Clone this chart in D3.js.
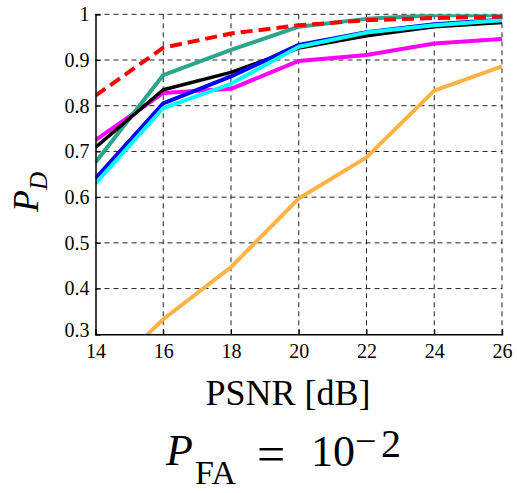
<!DOCTYPE html>
<html>
<head>
    <meta charset="utf-8">
    <style>
        body { margin: 0; background: #fff; }
        text { font-family: "Liberation Serif", "Times New Roman", serif; }
    </style>
</head>
<body>
    <script src="https://cdn.jsdelivr.net/npm/d3@7"></script>
    <script>
        // PSNR values on the x axis
        var psnr = [14, 16, 18, 20, 22, 24, 26];
        var xTicks = [14, 16, 18, 20, 22, 24, 26];
        var yTicks = [0.3, 0.4, 0.5, 0.6, 0.7, 0.8, 0.9, 1];

        // detection probability per method
        var orangePd  = [0.19, 0.333, 0.447, 0.597, 0.687, 0.833, 0.886];
        var magentaPd = [0.725, 0.828, 0.837, 0.898, 0.911, 0.936, 0.946];
        var tealPd    = [0.676, 0.867, 0.922, 0.973, 0.99, 0.998, 0.998];
        var blackPd   = [0.709, 0.835, 0.873, 0.926, 0.953, 0.973, 0.982];
        var bluePd    = [0.641, 0.805, 0.864, 0.933, 0.961, 0.978, 0.988];
        var cyanPd    = [0.63, 0.795, 0.848, 0.929, 0.960, 0.976, 0.987];
        var redPd     = [0.822, 0.927, 0.958, 0.976, 0.987, 0.992, 0.995];

        var series = [
            { values: orangePd, color: '#ffb347', width: 4, dash: null },
            { values: magentaPd, color: '#ff00ff', width: 4, dash: null },
            { values: tealPd, color: '#2ca58d', width: 4, dash: null },
            { values: blackPd, color: '#000000', width: 3.5, dash: null },
            { values: bluePd, color: '#0000ff', width: 4, dash: null },
            { values: cyanPd, color: '#00ffff', width: 4, dash: null },
            { values: redPd, color: '#ff0000', width: 4, dash: '12,6' }
        ];

        var width = 517, height = 493;
        var plotLeft = 95.5, plotRight = 502, plotTop = 14.3, plotBottom = 334.3;
        var serif = '"Liberation Serif", "Times New Roman", serif';

        var xScale = d3.scaleLinear().domain([14, 26]).range([plotLeft, plotRight]);
        var yScale = d3.scaleLinear().domain([0.3, 1]).range([plotBottom, plotTop]);

        var svg = d3.select('body').append('svg')
            .attr('width', width)
            .attr('height', height);

        svg.append('defs').append('clipPath').attr('id', 'plotClip')
            .append('rect')
            .attr('x', plotLeft).attr('y', plotTop)
            .attr('width', plotRight - plotLeft).attr('height', plotBottom - plotTop);

        // dashed grid
        var grid = svg.append('g');
        grid.selectAll('.vgrid')
            .data(xTicks.slice(1))
            .enter().append('line')
            .attr('x1', function (d) { return xScale(d); })
            .attr('x2', function (d) { return xScale(d); })
            .attr('y1', plotTop).attr('y2', plotBottom)
            .attr('stroke', '#222').attr('stroke-width', 1)
            .attr('stroke-dasharray', '5,4');
        grid.selectAll('.hgrid')
            .data(yTicks.slice(1))
            .enter().append('line')
            .attr('x1', plotLeft).attr('x2', plotRight)
            .attr('y1', function (d) { return yScale(d); })
            .attr('y2', function (d) { return yScale(d); })
            .attr('stroke', '#222').attr('stroke-width', 1)
            .attr('stroke-dasharray', '5,4');

        // lines
        var line = d3.line()
            .x(function (d, i) { return xScale(psnr[i]); })
            .y(function (d) { return yScale(d); });

        svg.append('g')
            .attr('clip-path', 'url(#plotClip)')
            .selectAll('path')
            .data(series)
            .enter().append('path')
            .attr('d', function (d) { return line(d.values); })
            .attr('fill', 'none')
            .attr('stroke', function (d) { return d.color; })
            .attr('stroke-width', function (d) { return d.width; })
            .attr('stroke-dasharray', function (d) { return d.dash; })
            .attr('stroke-linejoin', 'round');

        // axes with inward ticks
        var xAxis = d3.axisBottom(xScale).tickValues(xTicks)
            .tickSize(-5).tickPadding(10)
            .tickFormat(d3.format('d'));
        var xAxisNodes = svg.append('g')
            .attr('transform', 'translate(0,' + plotBottom + ')')
            .call(xAxis);
        xAxisNodes.selectAll('text')
            .attr('font-size', 20).attr('fill', '#000')
            .style('font-family', serif);

        var yAxis = d3.axisLeft(yScale).tickValues(yTicks)
            .tickSize(-5).tickPadding(6)
            .tickFormat(function (d) { return d === 1 ? '1' : d3.format('.1f')(d); });
        var yAxisNodes = svg.append('g')
            .attr('transform', 'translate(' + plotLeft + ',0)')
            .call(yAxis);
        yAxisNodes.selectAll('text')
            .attr('font-size', 20).attr('fill', '#000')
            .style('font-family', serif);
        yAxisNodes.selectAll('.tick').filter(function (d) { return d === 0.3; })
            .select('text').attr('dy', '0.1em');

        styleAxisNodes(xAxisNodes);
        styleAxisNodes(yAxisNodes);

        // x label
        svg.append('text')
            .attr('x', 288).attr('y', 405)
            .attr('text-anchor', 'middle')
            .attr('font-size', 36)
            .text('PSNR [dB]');

        // y label P_D
        var yLabel = svg.append('text')
            .attr('transform', 'translate(38,192) rotate(-90)')
            .attr('text-anchor', 'middle');
        yLabel.append('tspan').attr('font-size', 36).attr('font-style', 'italic').text('P');
        yLabel.append('tspan').attr('font-size', 25).attr('font-style', 'italic')
            .attr('dy', 9).text('D');

        // bottom caption P_FA = 10^-2
        var caption = svg.append('g');
        caption.append('text').attr('x', 166).attr('y', 465)
            .attr('font-size', 44).attr('font-style', 'italic').text('P');
        caption.append('text').attr('x', 195).attr('y', 484)
            .attr('font-size', 34).text('FA');
        caption.append('text').attr('x', 257).attr('y', 471)
            .attr('font-size', 50).text('=');
        caption.append('text').attr('x', 311).attr('y', 466)
            .attr('font-size', 44).text('10');
        caption.append('text').attr('x', 355).attr('y', 454)
            .attr('font-size', 38).text('\u2212');
        caption.append('text').attr('x', 381).attr('y', 457)
            .attr('font-size', 40).text('2');

        function styleAxisNodes(axisNodes) {
            axisNodes.selectAll('.domain')
                .attr('stroke', 'black').attr('stroke-width', 1.5);
            axisNodes.selectAll('.tick line')
                .attr('stroke', 'black').attr('stroke-width', 1);
        }
    </script>
</body>
</html>
